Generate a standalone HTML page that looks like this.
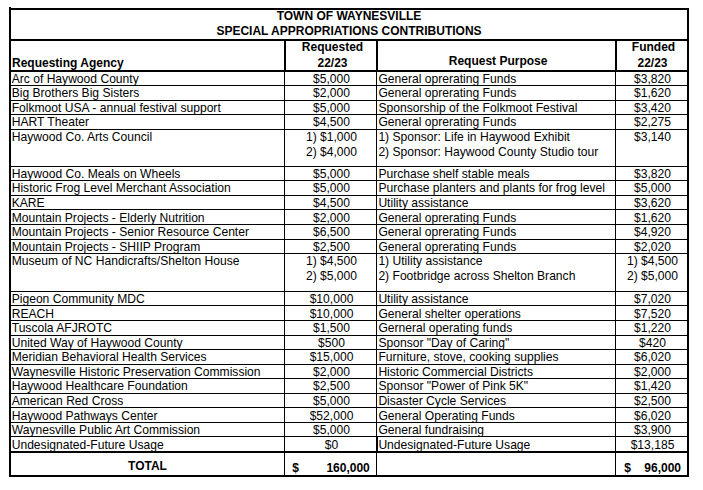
<!DOCTYPE html>
<html><head><meta charset="utf-8"><title>Special Appropriations Contributions</title>
<style>
html,body{margin:0;padding:0;background:#fff;}
body{width:703px;height:490px;position:relative;overflow:hidden;font-family:"Liberation Sans",sans-serif;font-size:12.1px;color:#000;}
i{position:absolute;display:block;background:#000;}
.t{position:absolute;display:block;font-weight:normal;line-height:14px;height:14px;white-space:nowrap;color:#000;}
.c{text-align:center}.r{text-align:right}.bd{font-weight:bold;color:#000;font-size:12px}
</style></head><body>
<i style="left:9px;top:7px;width:2px;height:470px"></i>
<i style="left:687px;top:8px;width:2px;height:469px"></i>
<i style="left:9px;top:8px;width:680px;height:2px"></i>
<i style="left:9px;top:39px;width:680px;height:2px"></i>
<i style="left:9px;top:70px;width:680px;height:2px"></i>
<i style="left:9px;top:451px;width:680px;height:2px"></i>
<i style="left:9px;top:475px;width:680px;height:2px"></i>
<i style="left:284px;top:41px;width:2px;height:29px"></i>
<i style="left:376px;top:41px;width:2px;height:29px"></i>
<i style="left:615px;top:41px;width:2px;height:29px"></i>
<i style="left:284px;top:72px;width:1px;height:403px"></i>
<i style="left:376px;top:72px;width:1px;height:403px"></i>
<i style="left:615px;top:72px;width:1px;height:403px"></i>
<i style="left:376px;top:437px;width:2px;height:14px"></i>
<i style="left:11px;top:85px;width:676px;height:1px"></i>
<i style="left:11px;top:100px;width:676px;height:1px"></i>
<i style="left:11px;top:114px;width:676px;height:1px"></i>
<i style="left:11px;top:129px;width:676px;height:1px"></i>
<i style="left:11px;top:166px;width:676px;height:1px"></i>
<i style="left:11px;top:180px;width:676px;height:1px"></i>
<i style="left:11px;top:195px;width:676px;height:1px"></i>
<i style="left:11px;top:209px;width:676px;height:1px"></i>
<i style="left:11px;top:224px;width:676px;height:1px"></i>
<i style="left:11px;top:239px;width:676px;height:1px"></i>
<i style="left:11px;top:253px;width:676px;height:1px"></i>
<i style="left:11px;top:291px;width:676px;height:1px"></i>
<i style="left:11px;top:305px;width:676px;height:1px"></i>
<i style="left:11px;top:320px;width:676px;height:1px"></i>
<i style="left:11px;top:335px;width:676px;height:1px"></i>
<i style="left:11px;top:349px;width:676px;height:1px"></i>
<i style="left:11px;top:364px;width:676px;height:1px"></i>
<i style="left:11px;top:378px;width:676px;height:1px"></i>
<i style="left:11px;top:393px;width:676px;height:1px"></i>
<i style="left:11px;top:407px;width:676px;height:1px"></i>
<i style="left:11px;top:422px;width:676px;height:1px"></i>
<i style="left:11px;top:436px;width:676px;height:1px"></i>
<b class="t c bd" style="left:11px;top:9px;width:676px">TOWN OF WAYNESVILLE</b>
<b class="t c bd" style="left:11px;top:24px;width:676px">SPECIAL APPROPRIATIONS CONTRIBUTIONS</b>
<b class="t bd" style="left:12px;top:56px;width:270px">Requesting Agency</b>
<b class="t c bd" style="left:287px;top:40px;width:91px">Requested</b>
<b class="t c bd" style="left:287px;top:56px;width:91px">22/23</b>
<b class="t c bd" style="left:379.6px;top:54px;width:237px">Request Purpose</b>
<b class="t c bd" style="left:618.5px;top:40px;width:70px">Funded</b>
<b class="t c bd" style="left:617.5px;top:56px;width:70px">22/23</b>
<b class="t " style="left:11.7px;top:72px;width:272px">Arc of Haywood County</b>
<b class="t c" style="left:286px;top:72px;width:91px">$5,000</b>
<b class="t " style="left:378.4px;top:72px;width:236px">General oprerating Funds</b>
<b class="t c" style="left:617px;top:72px;width:71px">$3,820</b>
<b class="t " style="left:11.7px;top:86px;width:272px">Big Brothers Big Sisters</b>
<b class="t c" style="left:286px;top:86px;width:91px">$2,000</b>
<b class="t " style="left:378.4px;top:86px;width:236px">General oprerating Funds</b>
<b class="t c" style="left:617px;top:86px;width:71px">$1,620</b>
<b class="t " style="left:11.7px;top:101px;width:272px">Folkmoot USA - annual festival support</b>
<b class="t c" style="left:286px;top:101px;width:91px">$5,000</b>
<b class="t " style="left:378.4px;top:101px;width:236px">Sponsorship of the Folkmoot Festival</b>
<b class="t c" style="left:617px;top:101px;width:71px">$3,420</b>
<b class="t " style="left:11.7px;top:115px;width:272px">HART Theater</b>
<b class="t c" style="left:286px;top:115px;width:91px">$4,500</b>
<b class="t " style="left:378.4px;top:115px;width:236px">General oprerating Funds</b>
<b class="t c" style="left:617px;top:115px;width:71px">$2,275</b>
<b class="t " style="left:11.7px;top:130px;width:272px">Haywood Co. Arts Council</b>
<b class="t c" style="left:286px;top:130px;width:91px">1) $1,000</b>
<b class="t c" style="left:286px;top:145px;width:91px">2) $4,000</b>
<b class="t " style="left:378.4px;top:130px;width:236px">1) Sponsor: Life in Haywood Exhibit</b>
<b class="t " style="left:378.4px;top:145px;width:236px">2) Sponsor: Haywood County Studio tour</b>
<b class="t c" style="left:617px;top:130px;width:71px">$3,140</b>
<b class="t " style="left:11.7px;top:167px;width:272px">Haywood Co. Meals on Wheels</b>
<b class="t c" style="left:286px;top:167px;width:91px">$5,000</b>
<b class="t " style="left:378.4px;top:167px;width:236px">Purchase shelf stable meals</b>
<b class="t c" style="left:617px;top:167px;width:71px">$3,820</b>
<b class="t " style="left:11.7px;top:181px;width:272px">Historic Frog Level Merchant Association</b>
<b class="t c" style="left:286px;top:181px;width:91px">$5,000</b>
<b class="t " style="left:378.4px;top:181px;width:236px">Purchase planters and plants for frog level</b>
<b class="t c" style="left:617px;top:181px;width:71px">$5,000</b>
<b class="t " style="left:11.7px;top:196px;width:272px">KARE</b>
<b class="t c" style="left:286px;top:196px;width:91px">$4,500</b>
<b class="t " style="left:378.4px;top:196px;width:236px">Utility assistance</b>
<b class="t c" style="left:617px;top:196px;width:71px">$3,620</b>
<b class="t " style="left:11.7px;top:211px;width:272px">Mountain Projects - Elderly Nutrition</b>
<b class="t c" style="left:286px;top:211px;width:91px">$2,000</b>
<b class="t " style="left:378.4px;top:211px;width:236px">General oprerating Funds</b>
<b class="t c" style="left:617px;top:211px;width:71px">$1,620</b>
<b class="t " style="left:11.7px;top:225px;width:272px">Mountain Projects - Senior Resource Center</b>
<b class="t c" style="left:286px;top:225px;width:91px">$6,500</b>
<b class="t " style="left:378.4px;top:225px;width:236px">General oprerating Funds</b>
<b class="t c" style="left:617px;top:225px;width:71px">$4,920</b>
<b class="t " style="left:11.7px;top:240px;width:272px">Mountain Projects - SHIIP Program</b>
<b class="t c" style="left:286px;top:240px;width:91px">$2,500</b>
<b class="t " style="left:378.4px;top:240px;width:236px">General oprerating Funds</b>
<b class="t c" style="left:617px;top:240px;width:71px">$2,020</b>
<b class="t " style="left:11.7px;top:254px;width:272px">Museum of NC Handicrafts/Shelton House</b>
<b class="t c" style="left:286px;top:254px;width:91px">1) $4,500</b>
<b class="t c" style="left:286px;top:269px;width:91px">2) $5,000</b>
<b class="t " style="left:378.4px;top:254px;width:236px">1) Utility assistance</b>
<b class="t " style="left:378.4px;top:269px;width:236px">2) Footbridge across Shelton Branch</b>
<b class="t c" style="left:617px;top:254px;width:71px">1) $4,500</b>
<b class="t c" style="left:617px;top:269px;width:71px">2) $5,000</b>
<b class="t " style="left:11.7px;top:292px;width:272px">Pigeon Community MDC</b>
<b class="t c" style="left:286px;top:292px;width:91px">$10,000</b>
<b class="t " style="left:378.4px;top:292px;width:236px">Utility assistance</b>
<b class="t c" style="left:617px;top:292px;width:71px">$7,020</b>
<b class="t " style="left:11.7px;top:307px;width:272px">REACH</b>
<b class="t c" style="left:286px;top:307px;width:91px">$10,000</b>
<b class="t " style="left:378.4px;top:307px;width:236px">General shelter operations</b>
<b class="t c" style="left:617px;top:307px;width:71px">$7,520</b>
<b class="t " style="left:11.7px;top:321px;width:272px">Tuscola AFJROTC</b>
<b class="t c" style="left:286px;top:321px;width:91px">$1,500</b>
<b class="t " style="left:378.4px;top:321px;width:236px">Gerneral operating funds</b>
<b class="t c" style="left:617px;top:321px;width:71px">$1,220</b>
<b class="t " style="left:11.7px;top:336px;width:272px">United Way of Haywood County</b>
<b class="t c" style="left:286px;top:336px;width:91px">$500</b>
<b class="t " style="left:378.4px;top:336px;width:236px">Sponsor &quot;Day of Caring&quot;</b>
<b class="t c" style="left:617px;top:336px;width:71px">$420</b>
<b class="t " style="left:11.7px;top:350px;width:272px">Meridian Behavioral Health Services</b>
<b class="t c" style="left:286px;top:350px;width:91px">$15,000</b>
<b class="t " style="left:378.4px;top:350px;width:236px">Furniture, stove, cooking supplies</b>
<b class="t c" style="left:617px;top:350px;width:71px">$6,020</b>
<b class="t " style="left:11.7px;top:365px;width:272px">Waynesville Historic Preservation Commission</b>
<b class="t c" style="left:286px;top:365px;width:91px">$2,000</b>
<b class="t " style="left:378.4px;top:365px;width:236px">Historic Commercial Districts</b>
<b class="t c" style="left:617px;top:365px;width:71px">$2,000</b>
<b class="t " style="left:11.7px;top:379px;width:272px">Haywood Healthcare Foundation</b>
<b class="t c" style="left:286px;top:379px;width:91px">$2,500</b>
<b class="t " style="left:378.4px;top:379px;width:236px">Sponsor &quot;Power of Pink 5K&quot;</b>
<b class="t c" style="left:617px;top:379px;width:71px">$1,420</b>
<b class="t " style="left:11.7px;top:394px;width:272px">American Red Cross</b>
<b class="t c" style="left:286px;top:394px;width:91px">$5,000</b>
<b class="t " style="left:378.4px;top:394px;width:236px">Disaster Cycle Services</b>
<b class="t c" style="left:617px;top:394px;width:71px">$2,500</b>
<b class="t " style="left:11.7px;top:409px;width:272px">Haywood Pathways Center</b>
<b class="t c" style="left:286px;top:409px;width:91px">$52,000</b>
<b class="t " style="left:378.4px;top:409px;width:236px">General Operating Funds</b>
<b class="t c" style="left:617px;top:409px;width:71px">$6,020</b>
<b class="t " style="left:11.7px;top:423px;width:272px">Waynesville Public Art Commission</b>
<b class="t c" style="left:286px;top:423px;width:91px">$5,000</b>
<b class="t " style="left:378.4px;top:423px;width:236px">General fundraising</b>
<b class="t c" style="left:617px;top:423px;width:71px">$3,900</b>
<b class="t " style="left:11.7px;top:438px;width:272px">Undesignated-Future Usage</b>
<b class="t c" style="left:286px;top:438px;width:91px">$0</b>
<b class="t " style="left:378.4px;top:438px;width:236px">Undesignated-Future Usage</b>
<b class="t c" style="left:617px;top:438px;width:71px">$13,185</b>
<b class="t c bd" style="left:11px;top:459px;width:273px">TOTAL</b>
<b class="t bd" style="left:292.3px;top:461px;width:20px">$</b>
<b class="t r bd" style="left:300px;top:461px;width:69.8px">160,000</b>
<b class="t bd" style="left:624.2px;top:461px;width:20px">$</b>
<b class="t r bd" style="left:620px;top:461px;width:61px">96,000</b>
</body></html>
